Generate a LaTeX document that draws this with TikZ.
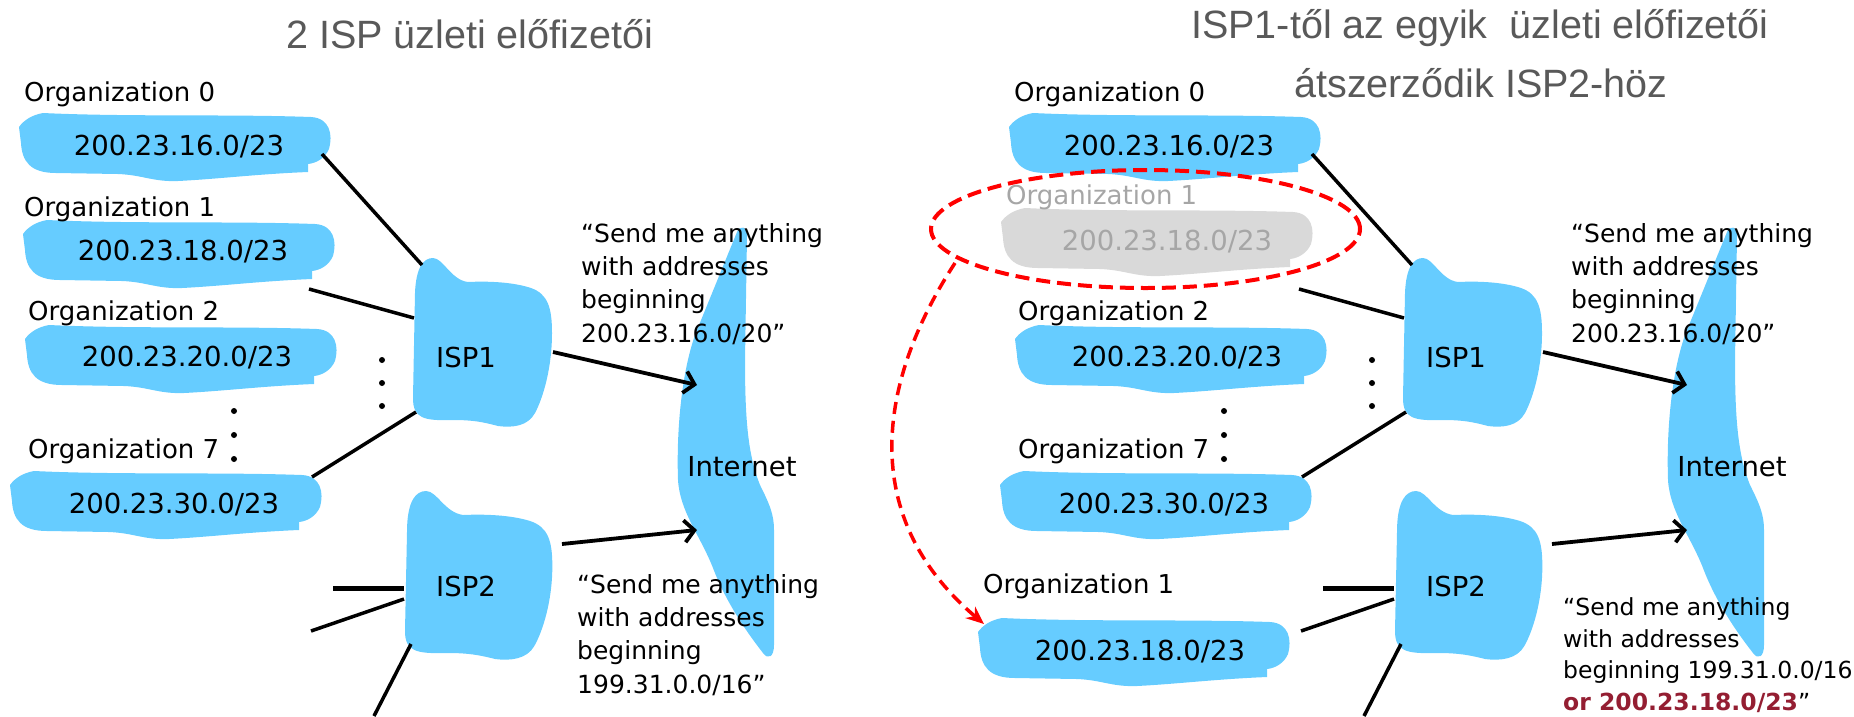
\documentclass[tikz,border=0pt]{standalone}
\usepackage{fontspec}
\setmainfont{DejaVu Sans}
\newfontfamily\titlefont{Liberation Sans}
\usetikzlibrary{arrows.meta}
\definecolor{netblue}{HTML}{66CCFF}
\definecolor{titlegray}{HTML}{595959}
\definecolor{ghostfill}{HTML}{D9D9D9}
\definecolor{ghosttext}{HTML}{A6A6A6}
\definecolor{darkred}{HTML}{941E32}
\definecolor{movered}{HTML}{FF0000}
\tikzset{
  orgblob/.pic={
    \path[pic actions] (1,14) .. controls (6,7) and (14,2) .. (25,0)
      .. controls (110,4) and (210,1) .. (293,4)
      .. controls (312,5) and (315,22) .. (311,36)
      .. controls (307,45) and (299,50) .. (290,51)
      -- (290,59)
      .. controls (240,61) and (200,66) .. (160,68)
      .. controls (135,69) and (125,62) .. (100,61)
      -- (38,60)
      .. controls (12,60) and (4,48) .. (3,30)
      -- cycle;
  },
  ispblob/.pic={
    \path[pic actions] (0,140) -- (2,35) .. controls (3,10) and (10,0) .. (20,0)
      .. controls (30,0) and (38,22) .. (55,24)
      .. controls (75,23) and (100,24) .. (118,30)
      .. controls (135,36) and (139,50) .. (139,75)
      .. controls (139,110) and (130,140) .. (122,155)
      .. controls (115,168) and (100,170) .. (85,168)
      .. controls (70,164) and (60,162) .. (40,162)
      .. controls (10,163) and (0,160) .. (0,140) -- cycle;
  },
  conn/.style={line width=3.5pt},
  thickconn/.style={line width=5pt},
  sendarrow/.style={line width=3.8pt,-{Straight Barb[length=10pt,width=22pt]}},
  orglabel/.style={anchor=base west, inner sep=0pt, font=\fontsize{26}{33}\selectfont},
  addr/.style={anchor=base, inner sep=0pt, font=\fontsize{27.5}{36}\selectfont},
  netlabel/.style={anchor=base, inner sep=0pt, font=\fontsize{27.5}{36}\selectfont},
  quote/.style={anchor=base west, inner sep=0pt, align=left, font=\fontsize{25}{33.3}\selectfont},
  titletext/.style={anchor=base, inner sep=0pt, text=titlegray, font=\titlefont\fontsize{39.5}{59}\selectfont},
  dot/.style={fill=black},
}
\newcommand\sharedside[1]{%
  % organization blobs
  \pic[fill=netblue] at (18,113) {orgblob};
  \node[orglabel] (#1l0) at (24,101) {Organization 0};
  \node[addr] (#1o0) at (179,155) {200.23.16.0/23};
  \pic[fill=netblue] at (24,325) {orgblob};
  \node[orglabel] (#1l2) at (28,320) {Organization 2};
  \node[addr] (#1o2) at (187,366) {200.23.20.0/23};
  \pic[fill=netblue] at (9,471) {orgblob};
  \node[orglabel] (#1l7) at (28,458) {Organization 7};
  \node[addr] (#1o7) at (174,513) {200.23.30.0/23};
  % dots
  \fill[dot] (234,411) circle (3pt) (234,435) circle (3pt) (234,459) circle (3pt);
  \fill[dot] (382,360) circle (3pt) (382,383) circle (3pt) (382,406) circle (3pt);
  % ISPs
  \pic[fill=netblue] at (413,258) {ispblob};
  \node[netlabel] (#1isp1) at (466,367) {ISP1};
  \pic[fill=netblue,xscale=1.06] at (405,491) {ispblob};
  \node[netlabel] (#1isp2) at (466,596) {ISP2};
  % Internet
  \fill[netblue] (737,232) .. controls (740,225) and (747,226) .. (747,236)
     -- (745,360) .. controls (745,420) and (748,455) .. (760,485)
     .. controls (770,505) and (774,515) .. (774,530) -- (774,645)
     .. controls (774,657) and (768,660) .. (763,653)
     .. controls (745,630) and (725,600) .. (713,568)
     .. controls (700,535) and (680,512) .. (678,480)
     .. controls (676,420) and (684,362) .. (697,330) -- cycle;
  \node[netlabel] (#1net) at (742,476) {Internet};
  % connector end points
  \coordinate (#1a0) at (322,154); \coordinate (#1b0) at (422,265);
  \coordinate (#1a1) at (309,289); \coordinate (#1b1) at (414,318);
  \coordinate (#1a7) at (312,477); \coordinate (#1b7) at (416,412);
  \coordinate (#1h1) at (333,588); \coordinate (#1h2) at (404,588);
  \coordinate (#1s1) at (311,631); \coordinate (#1s2) at (404,599);
  \coordinate (#1t1) at (411,644); \coordinate (#1t2) at (374,716);
  \coordinate (#1u1) at (553,352); \coordinate (#1u2) at (697,385);
  \coordinate (#1v1) at (562,544); \coordinate (#1v2) at (697,530);
  \draw[conn] (#1a0) -- (#1b0);
  \draw[conn] (#1a1) -- (#1b1);
  \draw[conn] (#1b7) -- (#1a7);
  \draw[thickconn] (#1h1) -- (#1h2);
  \draw[conn] (#1s1) -- (#1s2);
  \draw[conn] (#1t1) -- (#1t2);
  \draw[sendarrow] (#1u1) -- (#1u2);
  \draw[sendarrow] (#1v1) -- (#1v2);
  % advertisement of ISP1 (anchored at the baseline of its last line)
  \node[quote] (#1q1) at (581,342) {“Send me anything\\with addresses\\beginning\\200.23.16.0/20”};
}
\begin{document}
\begin{tikzpicture}[x=1pt,y=-1pt]
\useasboundingbox (0,0) rectangle (1854,716);
% ---------------- left: before ----------------
\node[titletext] (t1) at (469.5,48) {2 ISP üzleti előfizetői};
\sharedside{L}
\pic[fill=netblue] at (22,220) {orgblob};
\node[orglabel] (Ll1) at (24,216) {Organization 1};
\node[addr] (Lo1) at (183,260) {200.23.18.0/23};
\node[quote] (Lq2) at (577,693) {“Send me anything\\with addresses\\beginning\\199.31.0.0/16”};
% ---------------- right: after ----------------
\node[titletext] (t2) at (1480,38) {ISP1-től az egyik~ üzleti előfizetői};
\node[titletext] (t3) at (1481,97) {átszerződik ISP2-höz};
\begin{scope}[xshift=990pt]
\sharedside{R}
\end{scope}
\pic[fill=ghostfill] at (1000,208) {orgblob};
\node[orglabel,text=ghosttext] (Rg1) at (1006,204) {Organization 1};
\node[addr,text=ghosttext] (Rgo1) at (1167,250) {200.23.18.0/23};
\draw[movered, line width=4pt, dash pattern=on 14pt off 7pt] (1145.5,229) ellipse [x radius=214.5pt, y radius=59pt];
\pic[fill=netblue] at (977,618) {orgblob};
\node[orglabel] (Rl1) at (983,593) {Organization 1};
\node[addr] (Ro1) at (1140,660) {200.23.18.0/23};
\coordinate (mvA) at (955,263);
\coordinate (mvB) at (984,624);
\draw[movered, line width=3.5pt, dash pattern=on 12pt off 7pt, -{Stealth[length=18pt,width=15pt]}]
  (mvA) .. controls (885,370) and (850,510) .. (mvB);
\node[quote, font=\fontsize{23.5}{31.5}\selectfont] (Rq2) at (1563,710)
  {“Send me anything\\with addresses\\beginning 199.31.0.0/16\\{\bfseries\color{darkred}or 200.23.18.0/23}”};
\end{tikzpicture}
\end{document}
